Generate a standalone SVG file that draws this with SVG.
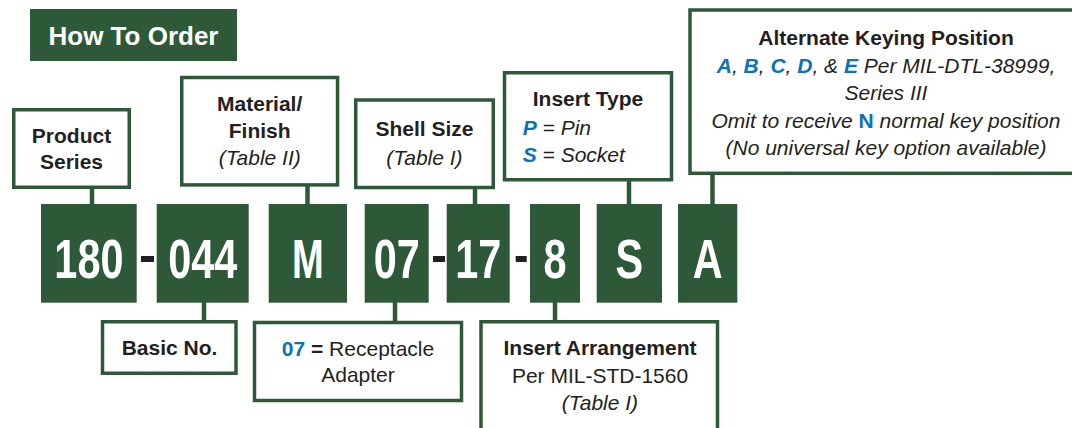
<svg xmlns="http://www.w3.org/2000/svg" width="1072" height="428" viewBox="0 0 1072 428">
<style>
.box{fill:#fff;stroke:#2e5939;stroke-width:3.5}
.blk{fill:#2e5939}
.stem{stroke:#2e5939;stroke-width:4.5;fill:none}
.t{font-family:"Liberation Sans",Arial,sans-serif;font-size:21px;fill:#231f20;text-anchor:middle}
.b{font-weight:bold}
.i{font-style:italic}
.blue{fill:#0b72b9;font-weight:bold}
.code{font-family:"Liberation Sans",Arial,sans-serif;font-size:56px;font-weight:bold;fill:#fff;text-anchor:middle}
.dash{fill:#231f20}
</style>
<rect width="1072" height="428" fill="#fff"/>
<g id="header">
<rect x="30" y="9" width="207" height="52" fill="#2e5939"/>
<text x="133.5" y="45" class="t b" style="font-size:26px;fill:#fff">How To Order</text>
</g>
<g id="connectors">
<line class="stem" x1="92" y1="187" x2="92" y2="205"/>
<line class="stem" x1="307.5" y1="185" x2="307.5" y2="205"/>
<line class="stem" x1="475" y1="187.5" x2="475" y2="205"/>
<line class="stem" x1="629" y1="180" x2="629" y2="205"/>
<line class="stem" x1="712.5" y1="173" x2="712.5" y2="205"/>
<line class="stem" x1="204" y1="302" x2="204" y2="322"/>
<line class="stem" x1="395" y1="302" x2="395" y2="322"/>
<line class="stem" x1="555" y1="302" x2="555" y2="322"/>
</g>
<g id="product-series">
<rect class="box" x="13.75" y="109.75" width="115.5" height="77.5"/>
<text class="t b" x="71.5" y="143">Product</text>
<text class="t b" x="71.5" y="169">Series</text>
</g>
<g id="material-finish">
<rect class="box" x="181.75" y="77.5" width="155.8" height="107.4"/>
<text class="t b" x="259.7" y="111">Material/</text>
<text class="t b" x="259.7" y="138">Finish</text>
<text class="t i" x="259.7" y="165">(Table II)</text>
</g>
<g id="shell-size">
<rect class="box" x="355.75" y="100" width="137.5" height="87.5"/>
<text class="t b" x="424.5" y="136">Shell Size</text>
<text class="t i" x="424.5" y="165">(Table I)</text>
</g>
<g id="insert-type">
<rect class="box" x="504.5" y="72.75" width="167" height="107"/>
<text class="t b" x="588" y="106">Insert Type</text>
<text class="t i" x="522.7" y="135" style="text-anchor:start"><tspan class="blue">P</tspan> = Pin</text>
<text class="t i" x="522.7" y="162" style="text-anchor:start"><tspan class="blue">S</tspan> = Socket</text>
</g>
<g id="alternate-keying">
<rect class="box" x="690" y="10" width="400" height="163.3"/>
<text class="t b" x="886" y="44.5">Alternate Keying Position</text>
<text class="t i" x="886" y="73"><tspan class="blue">A</tspan>, <tspan class="blue">B</tspan>, <tspan class="blue">C</tspan>, <tspan class="blue">D</tspan>, &amp; <tspan class="blue">E</tspan> Per MIL-DTL-38999,</text>
<text class="t i" x="886" y="100">Series III</text>
<text class="t i" x="886" y="128">Omit to receive <tspan class="blue" style="font-style:normal">N</tspan> normal key position</text>
<text class="t i" x="886" y="155">(No universal key option available)</text>
</g>
<g id="codes">
<rect class="blk" x="41" y="204" width="95.7" height="98.7"/>
<rect class="blk" x="156.7" y="204" width="92" height="98.7"/>
<rect class="blk" x="268.7" y="204" width="78.3" height="98.7"/>
<rect class="blk" x="364.7" y="204" width="64" height="98.7"/>
<rect class="blk" x="446.7" y="204" width="63" height="98.7"/>
<rect class="blk" x="530" y="204" width="50" height="98.7"/>
<rect class="blk" x="596.7" y="204" width="65.3" height="98.7"/>
<rect class="blk" x="678" y="204" width="59.3" height="98.7"/>
<rect class="dash" x="141" y="256" width="13" height="6"/>
<rect class="dash" x="433" y="256" width="12" height="6"/>
<rect class="dash" x="515.7" y="256" width="11" height="6"/>
<text class="code" transform="translate(88.9,278) scale(0.74,1)">180</text>
<text class="code" transform="translate(202.7,278) scale(0.74,1)">044</text>
<text class="code" transform="translate(307.8,278) scale(0.68,1)">M</text>
<text class="code" transform="translate(396.7,278) scale(0.74,1)">07</text>
<text class="code" transform="translate(478.2,278) scale(0.74,1)">17</text>
<text class="code" transform="translate(555,278) scale(0.74,1)">8</text>
<text class="code" transform="translate(629.3,278) scale(0.74,1)">S</text>
<text class="code" transform="translate(707.7,278) scale(0.74,1)">A</text>
</g>
<g id="basic-no">
<rect class="box" x="102.5" y="321.75" width="133.5" height="51.5"/>
<text class="t b" x="169.5" y="355">Basic No.</text>
</g>
<g id="receptacle">
<rect class="box" x="254.5" y="322.5" width="207" height="78"/>
<text class="t" x="358" y="356"><tspan class="blue">07</tspan><tspan class="b"> =</tspan> Receptacle</text>
<text class="t" x="358" y="382">Adapter</text>
</g>
<g id="insert-arrangement">
<rect class="box" x="481" y="321.75" width="236.5" height="125"/>
<text class="t b" x="600" y="355">Insert Arrangement</text>
<text class="t" x="600" y="383">Per MIL-STD-1560</text>
<text class="t i" x="600" y="409.5">(Table I)</text>
</g>
</svg>
